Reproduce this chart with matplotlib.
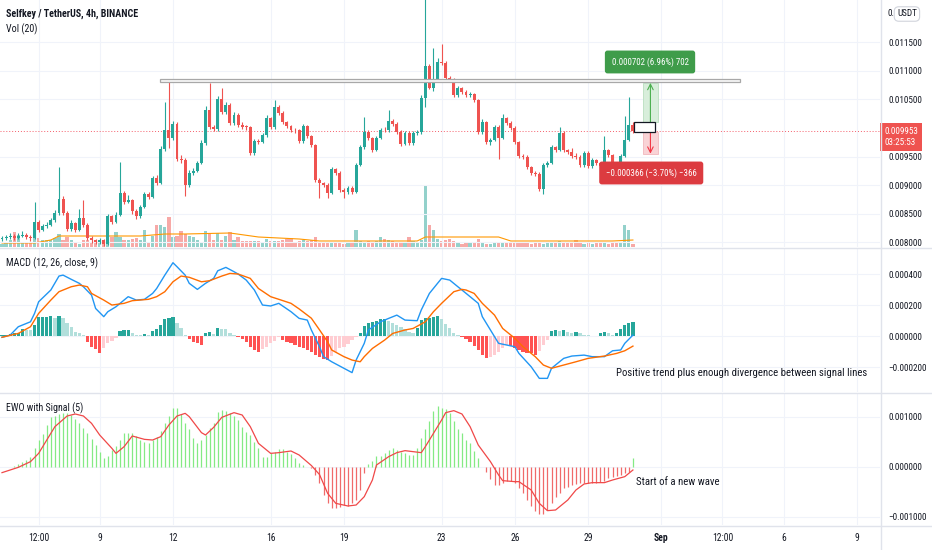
import os
import numpy as np
import matplotlib
matplotlib.use("Agg")
import matplotlib.pyplot as plt
from matplotlib import font_manager as fm
from matplotlib.font_manager import FontProperties
from matplotlib.textpath import TextPath
from matplotlib.patches import Rectangle
from matplotlib.lines import Line2D
from matplotlib.ticker import FuncFormatter
from matplotlib.transforms import blended_transform_factory

U = 1e-6  # prices / indicator values below are in millionths of USDT

# --- SELFKEY/USDT 4h candles, Aug 5 00:00 .. Aug 30 20:00 ---
first_open = 8050
closes = [8070, 8090, 8105, 8070, 8105, 8125, 8090, 8070, 8350, 8210,
          8280, 8300, 8385, 8510, 8755, 8510, 8230, 8335, 8210, 8420,
          8300, 8070, 8035, 8000, 8035, 7965, 8455, 8350, 8475, 8860,
          8700, 8735, 8545, 8455, 8615, 8840, 8790, 9125, 9035, 9630,
          9965, 9825, 10070, 9455, 9440, 9000, 9210, 9245, 9385, 9735,
          10315, 10020, 9980, 10510, 10280, 10405, 10090, 10230, 10055, 10020,
          10015, 9560, 9770, 9755, 9875, 10175, 10020, 10370, 10265, 10105,
          10035, 9965, 9960, 9770, 10035, 9860, 9700, 9090, 9035, 9000,
          8860, 9280, 9210, 8915, 8880, 8950, 8880, 9350, 9665, 9930,
          9825, 9615, 9825, 9965, 9960, 10125, 10070, 9930, 9720, 9910,
          9735, 9910, 9930, 10525, 11090, 10700, 10840, 11160, 11140, 10875,
          10840, 10580, 10700, 10630, 10580, 10590, 10490, 9930, 10105, 9755,
          9790, 10020, 9825, 10175, 10090, 10000, 9755, 9510, 9490, 9315,
          9210, 9195, 8930, 9350, 9385, 9665, 9615, 9910, 9615, 9580,
          9510, 9490, 9350, 9560, 9335, 9440, 9385, 9335, 9615, 9525,
          9385, 9335, 9510, 9790, 10055, 9953]
highs = [8110, 8130, 8150, 8140, 8160, 8200, 8160, 8120, 8700, 8380,
         8320, 8350, 8420, 8560, 9310, 8800, 8540, 8380, 8360, 8580,
         8740, 8330, 8100, 8060, 8070, 8060, 8500, 8480, 8520, 9400,
         8900, 8820, 8760, 8580, 8650, 8880, 8880, 9160, 9170, 9680,
         10455, 10800, 10120, 10100, 9520, 9470, 9260, 9290, 9420, 9790,
         10380, 10790, 10060, 10560, 10700, 10460, 10440, 10280, 10260, 10100,
         10060, 10040, 9800, 9800, 9910, 10220, 10200, 10490, 10400, 10290,
         10130, 10060, 10000, 9990, 10070, 10060, 9880, 9720, 9120, 9060,
         9030, 9320, 9300, 9240, 8950, 8990, 8980, 9390, 9700, 10200,
         9960, 9850, 9860, 10000, 10010, 10320, 10150, 10100, 9960, 9950,
         9940, 9940, 9970, 10580, 12300, 11120, 11400, 11220, 11470, 11170,
         10920, 10870, 10740, 10720, 10660, 10630, 10620, 10510, 10160, 10130,
         9830, 10060, 10050, 10240, 10200, 10120, 10030, 9780, 9540, 9520,
         9340, 9240, 9220, 9390, 9420, 9700, 9690, 10020, 9940, 9640,
         9650, 9560, 9520, 9600, 9590, 9480, 9460, 9410, 9860, 9640,
         9550, 9410, 9550, 10210, 10540, 10100]
lows = [8020, 8040, 8060, 8040, 8050, 8080, 8060, 8020, 8050, 8180,
        8190, 8250, 8280, 8360, 8480, 8480, 8190, 8200, 8180, 8190,
        8270, 8030, 7990, 7960, 7970, 7930, 7950, 8320, 8330, 8450,
        8660, 8680, 8500, 8410, 8430, 8590, 8760, 8770, 9000, 9010,
        9600, 9650, 9790, 9420, 9380, 8800, 8970, 9180, 9220, 9360,
        9700, 9990, 9940, 9950, 10250, 10250, 10050, 10060, 10020, 9980,
        9970, 9520, 9530, 9720, 9730, 9850, 9990, 9990, 10230, 10070,
        10000, 9930, 9920, 9740, 9740, 9830, 9670, 9050, 8780, 8960,
        8770, 8840, 9170, 8880, 8780, 8850, 8850, 8860, 9330, 9640,
        9790, 9580, 9590, 9800, 9930, 9930, 10040, 9900, 9680, 9700,
        9700, 9710, 9880, 9900, 10370, 10680, 10650, 10800, 11100, 10840,
        10800, 10540, 10550, 10600, 10540, 10550, 10450, 9890, 9900, 9720,
        9700, 9770, 9460, 9800, 10060, 9970, 9720, 9480, 9450, 9280,
        9180, 9160, 8890, 8840, 9320, 9360, 9580, 9590, 9580, 9550,
        9480, 9450, 9310, 9320, 9300, 9300, 9350, 9300, 9310, 9490,
        9350, 9300, 9310, 9490, 9770, 9920]
volume = [35, 40, 70, 150, 120, 50, 50, 40, 150, 90,
          70, 70, 70, 90, 130, 75, 100, 70, 50, 35,
          75, 70, 50, 70, 50, 70, 120, 100, 150, 100,
          70, 75, 85, 95, 75, 175, 50, 115, 225, 225,
          200, 305, 100, 110, 160, 130, 110, 100, 75, 50,
          165, 130, 70, 145, 70, 110, 155, 70, 100, 60,
          60, 65, 65, 65, 40, 85, 60, 65, 60, 75,
          85, 90, 50, 65, 75, 65, 75, 100, 50, 40,
          45, 55, 50, 40, 35, 45, 40, 170, 60, 55,
          60, 50, 60, 100, 85, 75, 60, 40, 50, 55,
          100, 60, 50, 75, 620, 220, 170, 85, 65, 75,
          85, 65, 40, 35, 50, 50, 50, 85, 55, 35,
          35, 50, 55, 55, 45, 40, 45, 50, 40, 40,
          35, 40, 45, 35, 45, 40, 55, 65, 45, 40,
          45, 70, 40, 35, 40, 35, 40, 55, 40, 35,
          40, 45, 55, 220, 170, 30]
vol_ma_idx = [0, 8, 12, 14, 20, 34, 40, 45, 56, 63, 73, 78, 102, 104, 110, 122, 125, 150, 155]
vol_ma = [40, 40, 70, 110, 110, 110, 130, 130, 140, 100, 80, 60, 60, 100, 100, 100, 60, 60, 70]

# --- MACD (12, 26, close, 9) ---
macd_idx = [0, 2, 4, 7, 8, 9, 12, 14, 15, 17, 19, 20, 22, 23, 25, 26, 28, 31, 33, 35,
            37, 38, 40, 42, 43, 45, 46, 48, 50, 52, 53, 55, 57, 58, 60, 62, 64, 66, 68, 71,
            73, 75, 76, 78, 79, 81, 84, 86, 87, 89, 90, 93, 95, 97, 99, 102, 103, 105, 107, 108,
            110, 112, 113, 115, 117, 118, 120, 122, 124, 126, 127, 130, 132, 134, 135, 138, 140, 143, 145, 148,
            150, 152, 153, 155]
macd_line = [-8, 6, 60, 92, 146, 221, 297, 387, 393, 366, 340, 318, 264, 178, 125, 157, 189, 254, 232, 237,
             275, 307, 393, 473, 447, 393, 340, 301, 340, 372, 421, 443, 415, 400, 361, 297, 200, 194, 211, 157,
             114, 103, 39, -69, -133, -166, -208, -236, -155, -47, 39, 92, 114, 135, 103, 99, 168, 275, 340, 372,
             361, 318, 297, 254, 211, 125, 39, -47, -58, -69, -112, -198, -273, -273, -208, -144, -129, -123, -133, -133,
             -95, -90, -47, 6]
sig_idx = [0, 4, 7, 9, 12, 14, 17, 19, 21, 22, 25, 27, 30, 32, 36, 38, 40, 42, 44, 46,
           49, 51, 54, 56, 58, 61, 63, 66, 68, 71, 73, 76, 78, 80, 81, 84, 86, 88, 89, 91,
           94, 96, 99, 101, 104, 106, 108, 111, 113, 114, 116, 118, 121, 123, 126, 128, 131, 133, 135, 138,
           141, 144, 148, 151, 153, 155]
macd_signal = [-8, 17, 60, 146, 232, 286, 318, 329, 318, 275, 232, 200, 211, 228, 237, 254, 286, 350, 387, 379,
               350, 357, 387, 404, 400, 372, 307, 254, 237, 211, 175, 115, 40, -37, -90, -133, -155, -166, -133, -80,
               -26, 17, 39, 49, 92, 157, 211, 286, 301, 297, 275, 211, 135, 49, -15, -69, -133, -187, -208, -187,
               -166, -144, -129, -112, -95, -65]
macd_hist = [6, 8, 10, 18, 22, 45, 42, 40, 70, 120,
             120, 124, 129, 114, 129, 114, 86, 60, 28, 17,
             4, -37, -69, -86, -108, -80, -47, -30, -15, 34,
             39, 39, 22, 6, 4, 13, 6, 34, 43, 71,
             107, 114, 125, 86, 50, 4, -17, -37, -47, -56,
             22, 24, 13, 49, 45, 43, 17, 4, -9, -22,
             -37, -69, -90, -101, -86, -69, -47, -30, -9, -26,
             -37, -47, -58, -69, -80, -90, -101, -120, -138, -150,
             -155, -129, -101, -80, -69, -52, -26, -9, 17, 64,
             86, 92, 99, 107, 110, 99, 86, 71, 56, 43,
             28, 21, 49, 103, 114, 118, 125, 129, 107, 77,
             49, 21, 4, -9, -22, -37, -65, -90, -123, -144,
             -133, -123, -101, -80, -58, -65, -80, -90, -101, -108,
             -112, -123, -95, -58, -26, 34, 39, 34, 39, 28,
             21, 28, 17, 6, 4, 3, 3, 21, 28, 17,
             4, 17, 43, 71, 82, 90]

# --- EWO with Signal (5) ---
ewo = [5, 5, 3, 20, 60, 107, 140, 210, 373, 540,
       653, 840, 993, 1020, 1060, 1087, 1087, 1040, 953, 873,
       773, 687, 553, 440, 307, 173, 220, 340, 420, 540,
       673, 687, 673, 620, 540, 507, 487, 540, 607, 727,
       873, 1020, 1173, 1173, 1060, 873, 753, 573, 487, 540,
       640, 773, 873, 1107, 1140, 1127, 1087, 1020, 940, 793,
       707, 640, 507, 373, 207, 207, 273, 307, 353, 353,
       307, 260, 173, 73, 40, 10, -27, -160, -327, -560,
       -727, -827, -827, -793, -760, -780, -727, -660, -460, -127,
       60, 127, 220, 220, 273, 340, 373, 340, 307, 273,
       240, 240, 373, 573, 753, 927, 1127, 1220, 1173, 1153,
       1073, 927, 753, 673, 540, 473, 327, 173, 10, -93,
       -247, -360, -360, -313, -273, -273, -327, -427, -527, -660,
       -780, -873, -940, -940, -860, -727, -593, -527, -427, -393,
       -360, -347, -327, -327, -327, -327, -313, -293, -273, -227,
       -207, -180, -160, -127, -93, 173]
ewo_sig_idx = [0, 2, 4, 7, 9, 11, 13, 16, 18, 20, 22, 24, 27, 28, 30, 32, 35, 37, 39, 41,
               43, 45, 46, 49, 50, 52, 54, 57, 59, 61, 63, 66, 68, 71, 73, 76, 78, 80, 82, 85,
               87, 89, 91, 92, 95, 97, 99, 101, 103, 104, 106, 108, 109, 111, 113, 115, 117, 120, 122, 123,
               126, 127, 130, 132, 134, 136, 139, 141, 143, 145, 148, 150, 153, 155]
ewo_signal = [-113, -60, -7, 107, 273, 540, 807, 1020, 1060, 1020, 873, 640, 373, 273, 407, 620, 553, 540, 607, 840,
              1020, 1073, 1007, 687, 640, 793, 993, 1087, 1040, 807, 473, 273, 287, 320, 240, 30, -150, -527, -727, -780,
              -760, -593, -260, 40, 207, 287, 327, 307, 287, 407, 673, 940, 1087, 1127, 1060, 807, 440, 107, -160, -273,
              -293, -293, -460, -727, -873, -860, -660, -460, -340, -313, -313, -260, -193, -60]

# time axis (candle index of each label)
date_ticks = [9, 24, 42, 66, 84, 108, 126, 144, 162, 177, 192, 210]
date_labels = ["12:00", "9", "12", "16", "19", "23", "26", "29", "Sep", "12:00", "6", "9"]

last_price = 9953
zone_start, zone_end, zone_lo, zone_hi = 38.8, 181.3, 10800, 10860
pos_start, pos_mid, pos_end = 155.3, 157.4, 161.2
pos_target, pos_entry, pos_entry_low, pos_stop = 10790, 10105, 9925, 9550

# ---------------------------------------------------------------
UP, DOWN = '#26a69a', '#ef5350'
TXT = '#131722'
GRID = '#f0f3fa'
SEP = '#e0e3eb'
W, H = 932, 550


def pick_font(weight):
    # prefer a narrow / condensed sans: the reference text is tall and narrow
    order = ['liberationsansnarrow', 'robotocondensed', 'opensanscondensed', 'notosans-condensed',
             'opensans-condensed', 'roboto_condensed']
    best, rank = None, 99
    for f in fm.fontManager.ttflist:
        base = os.path.basename(f.fname).lower()
        if f.style != 'normal' or f.weight != weight:
            continue
        if any(k in base for k in ('extra', 'semi', 'ultra', 'mono', 'serif', 'display', 'cjk', 'italic', 'light', 'medium', 'black', 'thin')):
            continue
        key = base.replace(' ', '')
        for r, name in enumerate(order):
            if key.startswith(name) and r < rank:
                best, rank = f.fname, r
    return best


reg_file, bold_file = pick_font(400), pick_font(700)


def font(size, bold=False):
    path = bold_file if bold else reg_file
    if path and (not bold or bold_file):
        return FontProperties(fname=path, size=size)
    if bold and reg_file:
        return FontProperties(fname=reg_file, size=size, weight='bold')
    return FontProperties(family=['Liberation Sans', 'DejaVu Sans'], size=size,
                          weight='bold' if bold else 'normal')


def fit(s, px, bold=False, lo=5.5, hi=9.0):
    # font size (pt) so that the string spans about px pixels
    w = TextPath((0, 0), s, size=10, prop=font(10, bold)).get_extents().width
    return float(np.clip(10 * px * 0.72 / w, lo, hi))


tick_fs = fit("0.011500", 33)
date_fs = fit("12:00", 20)
lab_fs = fit("MACD (12, 26, close, 9)", 90)
note_fs = fit("Positive trend plus enough divergence between signal lines", 249)
box_fs = fit("0.000702 (6.96%) 702", 76)


def rect(x0, y0, x1, y1):
    return [x0 / W, 1 - y1 / H, (x1 - x0) / W, (y1 - y0) / H]


def fmt(v, pos):
    return ("\u2212" if v < -1e-12 else "") + f"{abs(v):.6f}"


fig = plt.figure(figsize=(9.32, 5.5), dpi=100)
ax_v = fig.add_axes(rect(0, 0, 880, 247))
ax_p = fig.add_axes(rect(0, 0, 880, 247), sharex=ax_v)
ax_m = fig.add_axes(rect(0, 248, 880, 392), sharex=ax_v)
ax_e = fig.add_axes(rect(0, 393, 880, 525), sharex=ax_v)
ax_p.patch.set_alpha(0)

idx = np.arange(len(closes))
c = np.array(closes) * U
o = np.r_[first_open, closes[:-1]] * U
h = np.array(highs) * U
l = np.array(lows) * U
up = c >= o
col = np.where(up, UP, DOWN)


def style(ax, ticks, lo, hi):
    ax.set_ylim(lo, hi)
    ax.set_yticks(ticks)
    ax.yaxis.tick_right()
    ax.yaxis.set_major_formatter(FuncFormatter(fmt))
    ax.tick_params(axis='y', length=0, pad=6, labelcolor=TXT)
    ax.tick_params(axis='x', length=0, labelbottom=False)
    for s in ax.spines.values():
        s.set_visible(False)
    ax.grid(True, color=GRID, lw=0.8)
    ax.set_axisbelow(True)


ax_v.set_xlim(-0.49, 215.7)
ax_v.set_xticks(date_ticks)

# volume
ax_v.bar(idx, volume, width=0.8, color=np.where(up, '#93d1cb', '#f7a9a7'), lw=0)
ax_v.plot(vol_ma_idx, vol_ma, color='#ff9800', lw=0.8)
ax_v.set_ylim(0, 2470)
ax_v.set_yticks([])
ax_v.tick_params(axis='x', length=0, labelbottom=False)
ax_v.grid(True, axis='x', color=GRID, lw=0.8)
for s in ax_v.spines.values():
    s.set_visible(False)

# price
price_ticks = [8000, 8500, 9000, 9500, 10500, 11000, 11500]
style(ax_p, np.array(price_ticks) * U, 7913 * U, 12245 * U)
ax_p.grid(False, axis='x')
ax_p.vlines(idx, l, h, colors=col, lw=0.8, zorder=3)
ax_p.bar(idx, np.maximum(np.abs(c - o), 12 * U), bottom=np.minimum(o, c), width=0.72,
         color=col, lw=0, zorder=4)
ax_p.axhline(last_price * U, color='#f23645', lw=0.7, ls=(0, (1, 2)), alpha=0.8, zorder=2)

ax_p.add_patch(Rectangle((zone_start, zone_lo * U), zone_end - zone_start, (zone_hi - zone_lo) * U,
                         fc='#f7f7f7', ec='#a8a8a8', lw=0.9, zorder=6))
ax_p.add_patch(Rectangle((pos_mid, pos_entry * U), pos_end - pos_mid,
                         (pos_target - pos_entry) * U, fc='#d8eedb', ec='#b9dfbf', lw=0.6, zorder=5))
ax_p.add_patch(Rectangle((pos_mid, pos_stop * U), pos_end - pos_mid,
                         (pos_entry_low - pos_stop) * U, fc='#f9d3d6', ec='#f2b8bd', lw=0.6, zorder=5))
ax_p.add_patch(Rectangle((pos_start, pos_entry_low * U), 5.1, (pos_entry - pos_entry_low) * U,
                         fc='white', ec=TXT, lw=0.9, zorder=7))
ax_p.annotate('', xy=(159.3, pos_target * U), xytext=(159.3, pos_entry * U),
              arrowprops=dict(arrowstyle='->', color='#4caf50', lw=0.8, shrinkA=0, shrinkB=0), zorder=6)
ax_p.annotate('', xy=(159.3, pos_stop * U), xytext=(159.3, pos_entry_low * U),
              arrowprops=dict(arrowstyle='->', color='#f23645', lw=0.8, shrinkA=0, shrinkB=0), zorder=6)
ax_p.text(159.2, 11158 * U, "0.000702 (6.96%) 702", ha='center', va='center', color='white',
          fontproperties=font(box_fs), zorder=8,
          bbox=dict(boxstyle='round,pad=0.75,rounding_size=0.3', fc='#3f9c4a', ec='none'))
ax_p.text(159.5, 9211 * U, "\u22120.000366 (\u22123.70%) \u2212366", ha='center', va='center', color='white',
          fontproperties=font(box_fs), zorder=8,
          bbox=dict(boxstyle='round,pad=0.75,rounding_size=0.3', fc='#dc3b40', ec='none'))

tr = blended_transform_factory(ax_p.transAxes, ax_p.transData)
ax_p.annotate("0.009953\n03:25:53", xy=(1.0, last_price * U), xycoords=tr, xytext=(3.0, 2.8),
              textcoords='offset points', ha='left', va='top', color='white',
              fontproperties=font(tick_fs), linespacing=1.3, annotation_clip=False, zorder=20,
              bbox=dict(boxstyle='square,pad=0.42', fc='#ef5350', ec='none'))

# MACD
style(ax_m, np.array([-200, 0, 200, 400]) * U, -361 * U, 568 * U)
hv = np.array(macd_hist, dtype=float)
prev = np.r_[hv[0], hv[:-1]]
hcol = np.where(hv >= 0, np.where(hv >= prev, '#26a69a', '#b2dfdb'),
                np.where(hv < prev, '#ff5252', '#ffcdd2'))
ax_m.bar(idx, hv * U, width=0.8, color=hcol, lw=0, zorder=2)
ax_m.plot(macd_idx, np.array(macd_line) * U, color='#2196f3', lw=1.0, zorder=3)
ax_m.plot(sig_idx, np.array(macd_signal) * U, color='#ff6d00', lw=1.0, zorder=3)
ax_m.text(150.9, -239 * U, "Positive trend plus enough divergence between signal lines",
          fontproperties=font(note_fs), color=TXT, va='center', ha='left')

# EWO
style(ax_e, np.array([-1000, 0, 1000]) * U, -1160 * U, 1480 * U)
ev = np.array(ewo) * U
ax_e.vlines(idx, 0, ev, colors=np.where(ev >= 0, '#84ea84', '#f06a6a'), lw=0.9, zorder=2)
ax_e.plot(ewo_sig_idx, np.array(ewo_signal) * U, color='#f04848', lw=0.9, zorder=3)
ax_e.text(155.8, -300 * U, "Start of a new wave", fontproperties=font(note_fs), color=TXT,
          va='center', ha='left')
ax_e.set_xticklabels(date_labels)
ax_e.tick_params(axis='x', labelbottom=True, labelcolor=TXT, pad=6)
for lab in ax_e.get_xticklabels():
    lab.set_fontproperties(font(date_fs, bold=(lab.get_text() == "Sep")))
for ax in (ax_p, ax_m, ax_e):
    for lab in ax.get_yticklabels():
        lab.set_fontproperties(font(tick_fs))

# pane titles and separators
fig.text(6 / W, 1 - 14 / H, "Selfkey / TetherUS, 4h, BINANCE", fontproperties=font(lab_fs, bold=True),
         color=TXT, va='center')
fig.text(6 / W, 1 - 29 / H, "Vol (20)", fontproperties=font(lab_fs), color=TXT, va='center')
fig.text(6 / W, 1 - 263 / H, "MACD (12, 26, close, 9)", fontproperties=font(lab_fs), color=TXT, va='center')
fig.text(6 / W, 1 - 408 / H, "EWO with Signal (5)", fontproperties=font(lab_fs), color=TXT, va='center')
fig.text(888 / W, 1 - 14 / H, "0.", fontproperties=font(tick_fs), color=TXT, va='center')
fig.text(897 / W, 1 - 14 / H, "USDT", fontproperties=font(tick_fs), color=TXT, va='center',
         bbox=dict(boxstyle='round,pad=0.3,rounding_size=0.5', fc='white', ec='#d1d4dc', lw=0.8))

for y in (247.5, 392.5, 525.5):
    fig.add_artist(Line2D([0, 1], [1 - y / H, 1 - y / H], color=SEP, lw=1))
fig.add_artist(Line2D([880.5 / W, 880.5 / W], [0, 1], color=SEP, lw=1))

fig.savefig("out.png", dpi=100)
